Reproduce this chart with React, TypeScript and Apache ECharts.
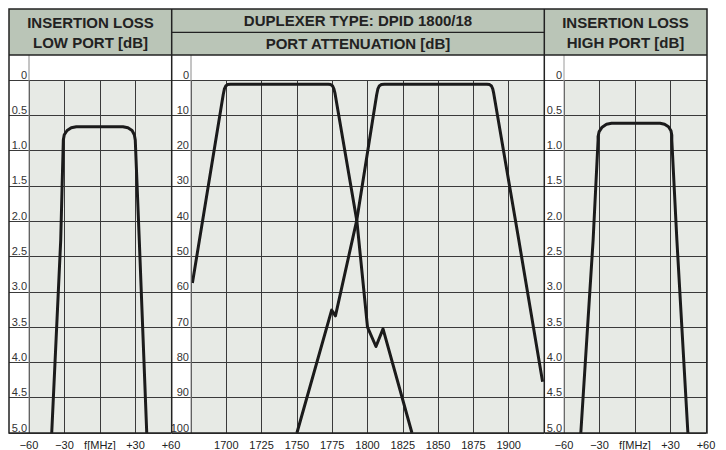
import React, { useEffect, useRef } from 'react';
import * as echarts from 'echarts';

// ---- tick labels ----
const lossXTicks = [-60, -30, 0, 30, 60];
const lossXLabels = ['−60', '−30', 'f[MHz]', '+30', '+60'];
const attXTicks = [1675, 1700, 1725, 1750, 1775, 1800, 1825, 1850, 1875, 1900, 1925];
const attXLabels = ['', '1700', '1725', '1750', '1775', '1800', '1825', '1850', '1875', '1900', ''];
const lossYTicks = [0, 0.5, 1, 1.5, 2, 2.5, 3, 3.5, 4, 4.5, 5];
const lossYLabels = ['0', '0.5', '1.0', '1.5', '2.0', '2.5', '3.0', '3.5', '4.0', '4.5', '5.0'];
const attYTicks = [0, 10, 20, 30, 40, 50, 60, 70, 80, 90, 100];
const attYLabels = ['0', '10', '20', '30', '40', '50', '60', '70', '80', '90', '100'];

// ---- header texts ----
const headerLeft = ['INSERTION LOSS', 'LOW PORT [dB]'];
const headerMid = ['DUPLEXER TYPE: DPID 1800/18', 'PORT ATTENUATION [dB]'];
const headerRight = ['INSERTION LOSS', 'HIGH PORT [dB]'];

// ---- insertion loss, low port (offset MHz vs dB) ----
const lowLossFreq = [-40.8, -33.2, -31.0, -30.2, -27.8, -24.3, -20.0, 19.4, 23.6, 27.1, 29.0, 29.8, 33.2, 39.5];
const lowLossDb = [5.0, 2.27, 0.85, 0.775, 0.715, 0.676, 0.661, 0.661, 0.676, 0.715, 0.775, 0.85, 2.27, 5.0];

// ---- insertion loss, high port ----
const highLossFreq = [-45.8, -35.4, -31.2, -31.2, -30.3, -27.8, -24.1, -19.8, 21.2, 25.0, 28.3, 30.4, 31.1, 31.1, 35.4, 44.7];
const highLossDb = [5.0, 2.27, 0.85, 0.80, 0.73, 0.668, 0.627, 0.613, 0.613, 0.626, 0.663, 0.718, 0.784, 0.85, 2.27, 5.0];

// ---- port attenuation, low port band ----
const lowAttFreq = [1676, 1697.8, 1698.6, 1699.6, 1701, 1703, 1772.2, 1774, 1775.3, 1776.2, 1777, 1792.5, 1800, 1806, 1811, 1831.5];
const lowAttDb = [57.5, 4.2, 2.6, 1.7, 1.3, 1.2, 1.2, 1.3, 1.7, 2.5, 3.8, 40, 70, 75.5, 70.5, 100];

// ---- port attenuation, high port band ----
const highAttFreq = [1750, 1774.6, 1777.3, 1792.4, 1804, 1806.5, 1807.3, 1808.3, 1809.8, 1812, 1884.5, 1886.5, 1887.8, 1888.7, 1889.4, 1907, 1924];
const highAttDb = [100, 65.2, 66.8, 39.7, 10.4, 4.2, 2.6, 1.7, 1.3, 1.2, 1.2, 1.3, 1.7, 2.5, 3.8, 45, 85.5];

const FONT = '"Liberation Sans", Arial, Helvetica, sans-serif';
const HEADER_BG = '#bac5b7';
const PLOT_BG = '#e7eae5';
const GRID_LINE = '#3a3a3a';
const CURVE = '#1b1b1b';
const FRAME = '#222222';

const zip = (xs: number[], ys: number[]) => xs.map((x, i) => [x, ys[i]]);
const lookup = (ticks: number[], labels: string[]) => (v: number) => {
  const i = ticks.findIndex((t) => Math.abs(t - v) < 1e-6);
  return i >= 0 ? labels[i] : '';
};

export default function App() {
  const ref = useRef<HTMLDivElement>(null);

  useEffect(() => {
    if (!ref.current) return;
    const chart = echarts.init(ref.current, undefined, { renderer: 'svg' });

    const mainX = (gridIndex: number, min: number, max: number, interval: number, ticks: number[], labels: string[]) => ({
      type: 'value',
      gridIndex,
      min,
      max,
      interval,
      axisLine: { show: false },
      axisTick: { show: false },
      splitLine: { show: true, lineStyle: { color: GRID_LINE, width: 1 } },
      axisLabel: {
        margin: 6,
        fontSize: 11,
        color: '#222',
        fontFamily: FONT,
        formatter: lookup(ticks, labels),
      },
    });

    const mainY = (gridIndex: number, max: number, interval: number, ticks: number[], labels: string[]) => ({
      type: 'value',
      gridIndex,
      inverse: true,
      min: 0,
      max,
      interval,
      axisLine: { show: false },
      axisTick: { show: false },
      splitLine: { show: true, lineStyle: { color: GRID_LINE, width: 1 } },
      axisLabel: {
        margin: 2,
        fontSize: 11,
        color: '#333',
        fontFamily: FONT,
        verticalAlign: 'bottom',
        formatter: lookup(ticks, labels),
      },
    });

    const helperX = (gridIndex: number) => ({ type: 'value', gridIndex, min: 0, max: 1, show: false });
    const helperY = (gridIndex: number, max: number, interval: number) => ({
      type: 'value',
      gridIndex,
      inverse: true,
      min: 0,
      max,
      interval,
      axisLine: { show: false },
      axisTick: { show: false },
      axisLabel: { show: false },
      splitLine: { show: true, lineStyle: { color: GRID_LINE, width: 1 } },
    });

    const curve = (xAxisIndex: number, yAxisIndex: number, xs: number[], ys: number[]) => ({
      type: 'line',
      xAxisIndex,
      yAxisIndex,
      data: zip(xs, ys),
      showSymbol: false,
      symbol: 'none',
      silent: true,
      clip: true,
      z: 5,
      lineStyle: { color: CURVE, width: 3, join: 'round', cap: 'butt' },
    });

    const headerText = (x: number, y: number, text: string) => ({
      type: 'text',
      x,
      y,
      z: 110,
      style: {
        text,
        font: `bold 15px ${FONT}`,
        fill: '#222',
        textAlign: 'center',
        textVerticalAlign: 'middle',
      },
    });

    const hLine = (x1: number, x2: number, y: number, w = 1.5, color = FRAME) => ({
      type: 'line',
      z: 100,
      shape: { x1, y1: y, x2, y2: y },
      style: { stroke: color, lineWidth: w },
    });
    const vLine = (x: number, y1: number, y2: number, w = 1.5, color = FRAME) => ({
      type: 'line',
      z: 100,
      shape: { x1: x, y1, x2: x, y2 },
      style: { stroke: color, lineWidth: w },
    });

    chart.setOption({
      animation: false,
      backgroundColor: '#ffffff',
      grid: [
        { left: 29, top: 80, width: 142, height: 353, show: true, backgroundColor: PLOT_BG, borderWidth: 0 },
        { left: 191, top: 80, width: 353, height: 353, show: true, backgroundColor: PLOT_BG, borderWidth: 0 },
        { left: 564, top: 80, width: 142, height: 353, show: true, backgroundColor: PLOT_BG, borderWidth: 0 },
        { left: 9, top: 80, width: 20, height: 353 },
        { left: 172, top: 80, width: 19, height: 353 },
        { left: 545, top: 80, width: 19, height: 353 },
      ],
      xAxis: [
        mainX(0, -60, 60, 30, lossXTicks, lossXLabels),
        mainX(1, 1675, 1925, 25, attXTicks, attXLabels),
        mainX(2, -60, 60, 30, lossXTicks, lossXLabels),
        helperX(3),
        helperX(4),
        helperX(5),
      ],
      yAxis: [
        mainY(0, 5, 0.5, lossYTicks, lossYLabels),
        mainY(1, 100, 10, attYTicks, attYLabels),
        mainY(2, 5, 0.5, lossYTicks, lossYLabels),
        helperY(3, 5, 0.5),
        helperY(4, 100, 10),
        helperY(5, 5, 0.5),
      ],
      series: [
        curve(0, 0, lowLossFreq, lowLossDb),
        curve(1, 1, lowAttFreq, lowAttDb),
        curve(1, 1, highAttFreq, highAttDb),
        curve(2, 2, highLossFreq, highLossDb),
      ],
      graphic: [
        { type: 'rect', z: 90, shape: { x: 9, y: 9, width: 698, height: 46 }, style: { fill: HEADER_BG } },
        vLine(29, 55, 433, 1, '#8a8a8a'),
        vLine(191, 55, 433, 1, '#8a8a8a'),
        vLine(564, 55, 433, 1, '#9a9a9a'),
        hLine(9, 707, 55),
        hLine(172, 544, 32.3, 1.2),
        vLine(171.7, 9, 433),
        vLine(544.3, 9, 433),
        { type: 'rect', z: 101, shape: { x: 9, y: 9, width: 698, height: 424 }, style: { fill: 'none', stroke: FRAME, lineWidth: 1.5 } },
        headerText(90.5, 22.5, headerLeft[0]),
        headerText(90.5, 42.5, headerLeft[1]),
        headerText(358, 20.5, headerMid[0]),
        headerText(358, 43.5, headerMid[1]),
        headerText(625.5, 22.5, headerRight[0]),
        headerText(625.5, 42.5, headerRight[1]),
      ],
    });

    return () => chart.dispose();
  }, []);

  return (
    <div
      ref={ref}
      style={{ position: 'absolute', left: 0, top: 0, width: 726, height: 450, background: '#ffffff' }}
    />
  );
}
